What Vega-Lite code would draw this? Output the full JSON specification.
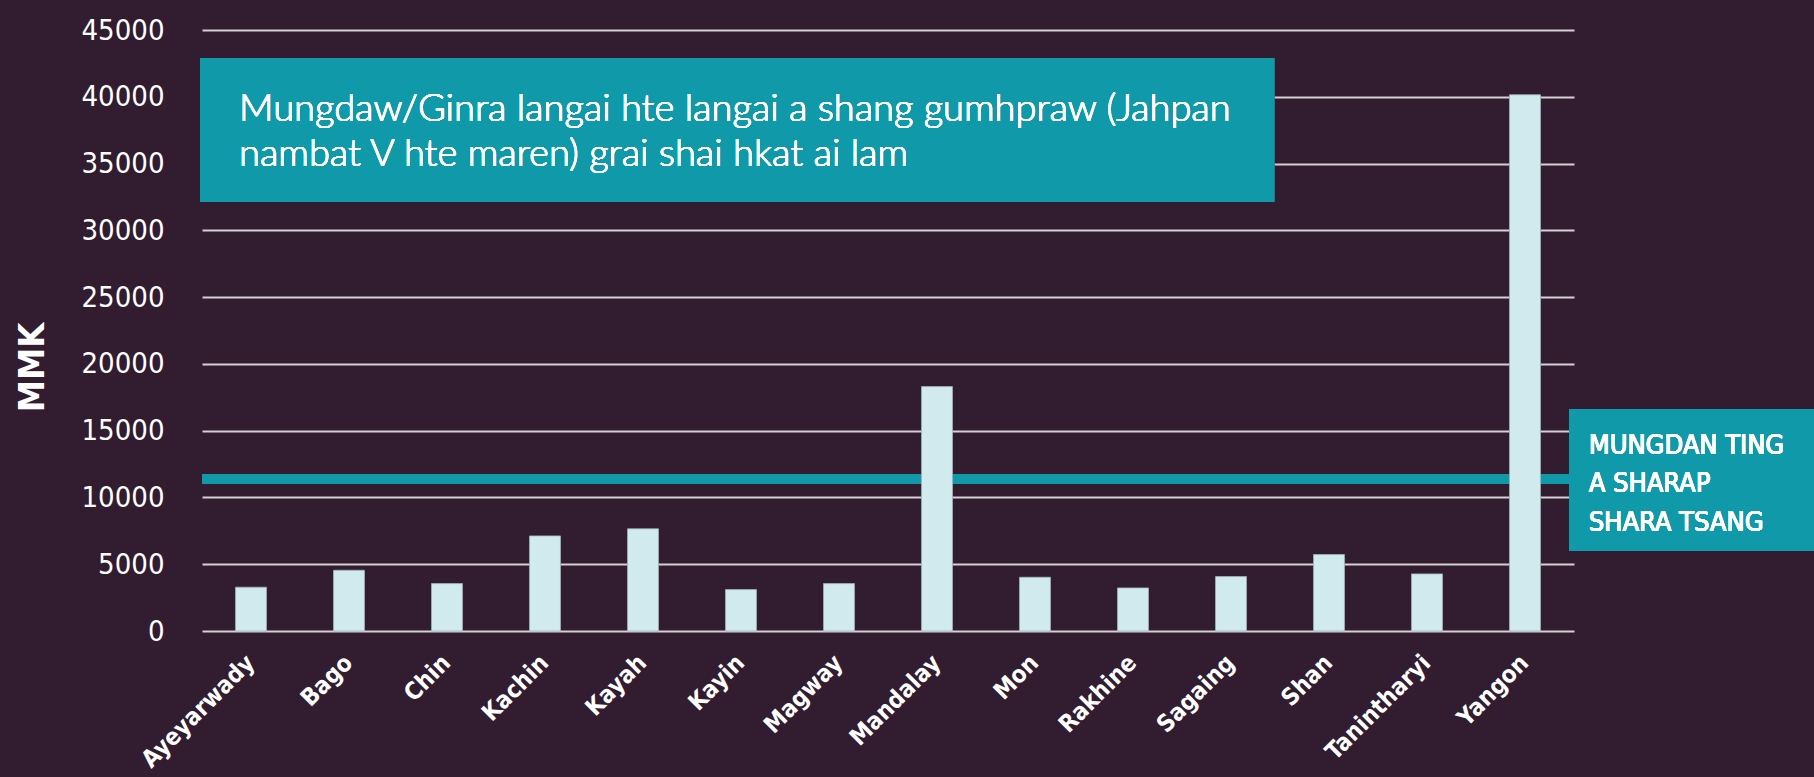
{
  "$schema": "https://vega.github.io/schema/vega-lite/v6.json",
  "width": 1372,
  "height": 601,
  "autosize": {"type": "none"},
  "padding": {"left": 202, "top": 30, "right": 240, "bottom": 146},
  "background": "#321c30",
  "config": {"view": {"stroke": null}},
  "data": {
    "values": [
      {"region": "Ayeyarwady", "mmk": 3280},
      {"region": "Bago", "mmk": 4550},
      {"region": "Chin", "mmk": 3550},
      {"region": "Kachin", "mmk": 7120},
      {"region": "Kayah", "mmk": 7650},
      {"region": "Kayin", "mmk": 3100},
      {"region": "Magway", "mmk": 3550},
      {"region": "Mandalay", "mmk": 18300},
      {"region": "Mon", "mmk": 4025},
      {"region": "Rakhine", "mmk": 3225},
      {"region": "Sagaing", "mmk": 4075},
      {"region": "Shan", "mmk": 5725},
      {"region": "Tanintharyi", "mmk": 4275},
      {"region": "Yangon", "mmk": 40150}
    ]
  },
  "resolve": {"scale": {"x": "independent", "y": "independent"}, "axis": {"x": "independent", "y": "independent"}},
  "layer": [
    {
      "mark": {"type": "rule", "color": "#109aa9", "strokeWidth": 9},
      "encoding": {
        "x": {"datum": 0, "type": "quantitative", "scale": {"domain": [0, 14], "nice": false, "zero": false}, "axis": null},
        "x2": {"datum": 13.95},
        "y": {"datum": 11360, "type": "quantitative", "scale": {"domain": [0, 45000], "nice": false}, "axis": null}
      }
    },
    {
      "mark": {"type": "bar", "color": "#d1eaee", "stroke": "#9fb3bb", "strokeWidth": 0.8},
      "encoding": {
        "x": {
          "field": "region", "type": "nominal", "sort": null,
          "scale": {"paddingInner": 0.684, "paddingOuter": 0.342},
          "axis": {
            "title": null, "labelAngle": -45, "labelAlign": "right", "labelBaseline": "middle",
            "labelFont": "DejaVu Sans Condensed, Roboto, sans-serif", "labelFontWeight": "bold", "labelFontSize": 24,
            "labelColor": "#ffffff", "labelPadding": 28, "ticks": false, "domain": false, "grid": false
          }
        },
        "y": {
          "field": "mmk", "type": "quantitative",
          "scale": {"domain": [0, 45000], "nice": false},
          "axis": {
            "title": "MMK", "titleFont": "DejaVu Sans Condensed, Roboto, sans-serif", "titleFontWeight": "bold", "titleFontSize": 36,
            "titleColor": "#ffffff", "titleAngle": -90, "titleAlign": "center", "titleBaseline": "middle",
            "titleX": -170, "titleY": 337,
            "values": [0, 5000, 10000, 15000, 20000, 25000, 30000, 35000, 40000, 45000],
            "format": "d", "labelFont": "DejaVu Sans Condensed, Roboto, sans-serif", "labelFontSize": 29, "labelColor": "#ffffff",
            "labelPadding": 38, "ticks": false, "domain": false,
            "grid": true, "gridColor": "#d4d0d4", "gridWidth": 2, "gridOpacity": 1
          }
        }
      }
    },
    {
      "mark": {"type": "rect", "color": "#109aa9"},
      "encoding": {
        "x": {"datum": -0.02, "type": "quantitative", "scale": {"domain": [0, 14], "nice": false, "zero": false}, "axis": null},
        "x2": {"datum": 10.94},
        "y": {"datum": 42906, "type": "quantitative", "scale": {"domain": [0, 45000], "nice": false}, "axis": null},
        "y2": {"datum": 32124}
      }
    },
    {
      "mark": {
        "type": "text", "align": "left", "baseline": "alphabetic", "font": "Lato", "fontWeight": 300, "fontSize": 38,
        "lineHeight": 45.5, "color": "#ffffff",
        "text": ["Mungdaw/Ginra langai hte langai a shang gumhpraw (Jahpan", "nambat V hte maren) grai shai hkat ai lam"]
      },
      "encoding": {
        "x": {"datum": 0.378, "type": "quantitative", "scale": {"domain": [0, 14], "nice": false, "zero": false}, "axis": null},
        "y": {"datum": 38189, "type": "quantitative", "scale": {"domain": [0, 45000], "nice": false}, "axis": null}
      }
    },
    {
      "mark": {"type": "rect", "color": "#109aa9"},
      "encoding": {
        "x": {"datum": 13.95, "type": "quantitative", "scale": {"domain": [0, 14], "nice": false, "zero": false}, "axis": null},
        "x2": {"datum": 16.5},
        "y": {"datum": 16623, "type": "quantitative", "scale": {"domain": [0, 45000], "nice": false}, "axis": null},
        "y2": {"datum": 5990}
      }
    },
    {
      "mark": {
        "type": "text", "align": "left", "baseline": "alphabetic", "font": "DejaVu Sans Condensed, Roboto, sans-serif", "fontSize": 27,
        "lineHeight": 38.3, "color": "#ffffff",
        "text": ["MUNGDAN TING", "A SHARAP", "SHARA TSANG"]
      },
      "encoding": {
        "x": {"datum": 14.15, "type": "quantitative", "scale": {"domain": [0, 14], "nice": false, "zero": false}, "axis": null},
        "y": {"datum": 13254, "type": "quantitative", "scale": {"domain": [0, 45000], "nice": false}, "axis": null}
      }
    }
  ]
}
